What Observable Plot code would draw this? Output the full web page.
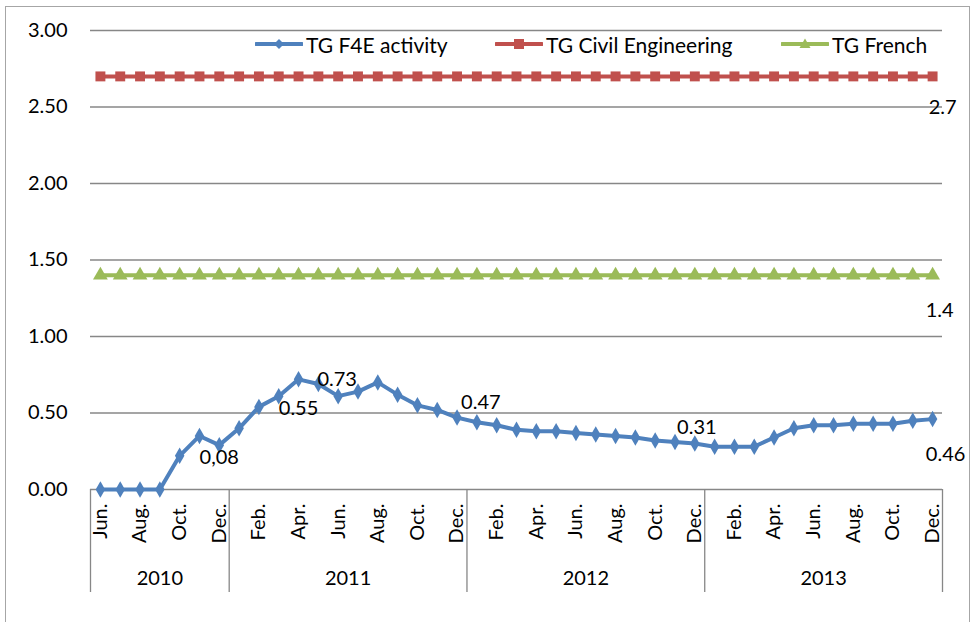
<!DOCTYPE html>
<html><head><meta charset="utf-8">
<script src="https://cdn.jsdelivr.net/npm/d3@7"></script>
<script src="https://cdn.jsdelivr.net/npm/@observablehq/plot@0.6"></script>
<style>
body{margin:0;background:#fff;}
#wrap{position:relative;width:973px;height:622px;overflow:hidden;font-family:Lato,sans-serif;background:#fff;}
#border{position:absolute;left:5px;top:6px;width:965px;height:660px;border:1.5px solid #a6a6a6;box-sizing:border-box;}
#chart{position:absolute;left:0;top:0;}
.leg{position:absolute;top:32px;height:24px;display:flex;align-items:center;font-size:21px;color:#000;white-space:nowrap;}
.leg svg{margin-right:3px;}
</style>
</head><body>
<div id="wrap">
  <div id="border"></div>
  <div id="chart"></div>
  <div class="leg" style="left:255px"><svg width="48" height="14"><line x1="1" x2="47" y1="7" y2="7" stroke="#4F81BD" stroke-width="4" stroke-linecap="round"/><path d="M24,2 L29,7 L24,12 L19,7Z" fill="#4F81BD"/></svg>TG F4E activity</div>
  <div class="leg" style="left:495px"><svg width="48" height="14"><line x1="1" x2="47" y1="7" y2="7" stroke="#C0504D" stroke-width="4" stroke-linecap="round"/><rect x="19" y="2" width="10" height="10" fill="#C0504D"/></svg>TG Civil Engineering</div>
  <div class="leg" style="left:781px"><svg width="48" height="14"><line x1="1" x2="47" y1="7" y2="7" stroke="#9BBB59" stroke-width="4" stroke-linecap="round"/><path d="M24,1.5 L29.5,11 L18.5,11Z" fill="#9BBB59"/></svg>TG French</div>
</div>
<script>
// ---- data ----
const years = ["2010", "2011", "2012", "2013"];
const months = [
  "Jun.","Jul.","Aug.","Sep.","Oct.","Nov.","Dec.",
  "Jan.","Feb.","Mar.","Apr.","May","Jun.","Jul.","Aug.","Sep.","Oct.","Nov.","Dec.",
  "Jan.","Feb.","Mar.","Apr.","May","Jun.","Jul.","Aug.","Sep.","Oct.","Nov.","Dec.",
  "Jan.","Feb.","Mar.","Apr.","May","Jun.","Jul.","Aug.","Sep.","Oct.","Nov.","Dec."
];
const monthsPerYear = [7, 12, 12, 12];
const f4e = [
  0, 0, 0, 0, 0.22, 0.35, 0.29,
  0.40, 0.54, 0.61, 0.72, 0.69, 0.61, 0.64, 0.70, 0.62, 0.55, 0.52, 0.47,
  0.44, 0.42, 0.39, 0.38, 0.38, 0.37, 0.36, 0.35, 0.34, 0.32, 0.31, 0.30,
  0.28, 0.28, 0.28, 0.34, 0.40, 0.42, 0.42, 0.43, 0.43, 0.43, 0.45, 0.46
];
const civil = [
  2.7, 2.7, 2.7, 2.7, 2.7, 2.7, 2.7,
  2.7, 2.7, 2.7, 2.7, 2.7, 2.7, 2.7, 2.7, 2.7, 2.7, 2.7, 2.7,
  2.7, 2.7, 2.7, 2.7, 2.7, 2.7, 2.7, 2.7, 2.7, 2.7, 2.7, 2.7,
  2.7, 2.7, 2.7, 2.7, 2.7, 2.7, 2.7, 2.7, 2.7, 2.7, 2.7, 2.7
];
const french = [
  1.4, 1.4, 1.4, 1.4, 1.4, 1.4, 1.4,
  1.4, 1.4, 1.4, 1.4, 1.4, 1.4, 1.4, 1.4, 1.4, 1.4, 1.4, 1.4,
  1.4, 1.4, 1.4, 1.4, 1.4, 1.4, 1.4, 1.4, 1.4, 1.4, 1.4, 1.4,
  1.4, 1.4, 1.4, 1.4, 1.4, 1.4, 1.4, 1.4, 1.4, 1.4, 1.4, 1.4
];
const yTicks = [0, 0.5, 1, 1.5, 2, 2.5, 3];
const labelIndex = [6, 10, 12, 19, 30, 42, 42, 42];
const labelSeries = ["f4e", "f4e", "f4e", "f4e", "f4e", "f4e", "civil", "french"];
const labelText = ["0,08", "0.55", "0.73", "0.47", "0.31", "0.46", "2.7", "1.4"];

// ---- styling / layout (not data) ----
const seriesValues = {f4e, civil, french};
const labelOffsets = [[0, 12], [0, 29], [-1, -17], [4, -20], [2, -16], [13, 35], [10, 31], [7, 35]];
const grid = "#878787";
const n = months.length;
const idx = d3.range(n);
const bounds = [-0.5];
monthsPerYear.forEach((m, i) => bounds.push(bounds[i] + m));
const yearCenters = years.map((y, i) => (bounds[i] + bounds[i + 1]) / 2);

const seriesMarks = (vals, color, symbol, r) => [
  Plot.line(idx, {x: i => i, y: i => vals[i], stroke: color, strokeWidth: 4, strokeLinejoin: "round"}),
  Plot.dot(idx, {x: i => i, y: i => vals[i], symbol, r, fill: color, stroke: "none"})
];

const plot = Plot.plot({
  width: 973, height: 622,
  marginLeft: 90, marginRight: 31, marginTop: 30, marginBottom: 133,
  style: {fontFamily: "Lato, sans-serif", fontSize: "20px", color: "#000", background: "transparent", overflow: "visible"},
  x: {type: "linear", domain: [-0.5, n - 0.5], axis: null},
  y: {domain: [0, 3], axis: null},
  marks: [
    Plot.gridY(yTicks, {stroke: grid, strokeOpacity: 1, strokeWidth: 1.3}),
    Plot.axisY(yTicks, {tickSize: 0, tickPadding: 23, tickFormat: d => d.toFixed(2), label: null, fontSize: 20}),
    Plot.ruleX(bounds, {y1: 0, y2: 0, insetBottom: -103, stroke: grid, strokeWidth: 1.3}),
    Plot.text(idx.filter(i => i % 2 === 0), {x: i => i, y: 0, text: i => months[i], rotate: -90, textAnchor: "end", lineAnchor: "middle", dy: 14, fontSize: 20, fill: "#000"}),
    Plot.text(years, {x: (d, i) => yearCenters[i], y: 0, text: d => d, dy: 89, fontSize: 20, fill: "#000"}),
    ...seriesMarks(civil, "#C0504D", "square", 5.6),
    ...seriesMarks(french, "#9BBB59", "triangle", 5.5),
    ...seriesMarks(f4e, "#4F81BD", "diamond", 5),
    ...labelText.map((t, k) => Plot.text([k], {
      x: () => labelIndex[k], y: () => seriesValues[labelSeries[k]][labelIndex[k]],
      text: () => t, dx: labelOffsets[k][0], dy: labelOffsets[k][1], fontSize: 20, fill: "#000"
    }))
  ]
});
document.getElementById("chart").appendChild(plot);
</script>
</body></html>
